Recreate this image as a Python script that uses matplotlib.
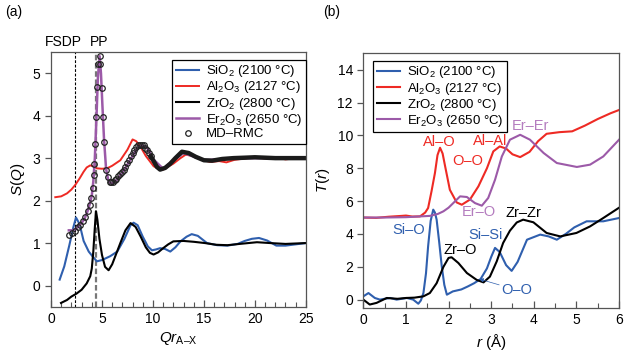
import numpy as np
import matplotlib
matplotlib.use("Agg")
import matplotlib.pyplot as plt
from matplotlib.ticker import MultipleLocator
import matplotlib.transforms as mtransforms

plt.rcParams["font.family"] = ["Liberation Sans", "DejaVu Sans"]
plt.rcParams["font.size"] = 10
plt.rcParams["mathtext.fontset"] = "custom"
plt.rcParams["mathtext.rm"] = "Liberation Sans"
plt.rcParams["mathtext.it"] = "Liberation Sans:italic"

BLUE = "#2f5fae"
RED = "#ee2a24"
PURPLE = "#9c5aa8"
PURPLE_TXT = "#b47cbf"
SPINE = "#555555"

LABELS = ["SiO$_2$ (2100 °C)", "Al$_2$O$_3$ (2127 °C)",
          "ZrO$_2$ (2800 °C)", "Er$_2$O$_3$ (2650 °C)"]

# ---- panel (a): S(Q) vs Q r_A-X ----
sio2_q = [0.85, 1.3, 1.8, 2.2, 2.45, 2.8, 3.2, 3.7, 4.1, 4.5, 5.0, 5.8, 6.5, 7.2, 7.8, 8.1, 8.5,
          9.0, 9.5, 9.9, 10.3, 10.7, 11.2, 11.7, 12.2, 12.7, 13.3, 13.8, 14.4, 15.3, 16.3, 17.3,
          18.3, 19.0, 19.7, 20.4, 21.2, 22.1, 23.0, 24.0, 25.0]
sio2_s = [0.14, 0.45, 0.95, 1.38, 1.6, 1.45, 1.05, 0.8, 0.68, 0.57, 0.6, 0.69, 0.8, 1.1, 1.42,
          1.48, 1.42, 1.15, 0.92, 0.83, 0.85, 0.88, 0.86, 0.8, 0.9, 1.04, 1.15, 1.21, 1.17, 1.0,
          0.95, 0.94, 0.98, 1.05, 1.1, 1.12, 1.06, 0.94, 0.94, 0.97, 1.0]

al2o3_q = [0.42, 1.0, 1.57, 2.0, 2.38, 2.8, 3.2, 3.5, 3.85, 4.2, 4.5, 5.0, 5.5, 6.0, 6.8, 7.5,
           8.0, 8.35, 8.75, 9.3, 10.06, 10.5, 11.0, 12.0, 12.7, 13.2, 14.0, 15.0, 15.6, 16.5,
           17.2, 18.0, 19.0, 19.9, 21.0, 22.0, 23.0, 24.0, 25.0]
al2o3_s = [2.08, 2.1, 2.17, 2.26, 2.37, 2.52, 2.68, 2.78, 2.83, 2.8, 2.76, 2.75, 2.76, 2.82,
           2.95, 3.2, 3.44, 3.4, 3.28, 3.05, 2.81, 2.75, 2.73, 2.87, 3.0, 3.08, 3.05, 2.95, 2.91,
           2.93, 2.9, 2.96, 2.99, 3.03, 2.99, 3.02, 2.97, 3.0, 3.0]

zro2_q = [0.98, 1.57, 2.0, 2.5, 3.0, 3.5, 3.85, 4.0, 4.15, 4.28, 4.41, 4.55, 4.75, 5.0, 5.3,
          5.65, 6.0, 6.4, 6.8, 7.3, 7.8, 8.3, 8.8, 9.3, 9.7, 10.06, 10.5, 11.0, 11.5, 12.0, 13.0,
          14.0, 15.1, 16.2, 17.3, 18.5, 20.2, 21.5, 23.0, 25.0]
zro2_s = [-0.41, -0.34, -0.26, -0.19, -0.1, 0.05, 0.22, 0.4, 0.8, 1.3, 1.75, 1.55, 1.1, 0.72,
          0.44, 0.36, 0.5, 0.75, 1.0, 1.3, 1.47, 1.38, 1.15, 0.9, 0.77, 0.73, 0.78, 0.88, 0.97,
          1.04, 1.05, 1.03, 1.0, 0.96, 0.95, 0.98, 1.02, 1.0, 0.98, 1.0]

er2o3_q = [1.75, 2.1, 2.4, 2.7, 3.0, 3.3, 3.6, 3.8, 4.0, 4.15, 4.3, 4.45, 4.6, 4.77, 4.9, 5.05,
           5.2, 5.4, 5.6, 5.8, 6.0, 6.5, 7.0, 7.5, 8.0, 8.5, 9.0, 9.5, 10.0, 11.0, 12.0, 13.0,
           15.0, 18.0, 25.0]
er2o3_s = [1.3, 1.3, 1.33, 1.4, 1.47, 1.58, 1.76, 1.92, 2.12, 2.45, 3.0, 3.9, 4.9, 5.4, 5.0,
           4.2, 3.45, 2.75, 2.5, 2.42, 2.4, 2.5, 2.66, 2.85, 3.05, 3.25, 3.3, 3.22, 2.98, 2.75,
           2.95, 3.12, 2.95, 3.0, 3.0]

md_q = [1.73, 2.06, 2.38, 2.61, 2.87, 3.13, 3.36, 3.59, 3.79, 3.95, 4.08, 4.18, 4.25, 4.34,
        4.41, 4.51, 4.6, 4.77, 4.83, 4.96, 5.09, 5.23, 5.39, 5.55, 5.75, 5.91, 6.08, 6.25,
        6.42, 6.6, 6.78, 6.95, 7.12, 7.3, 7.48, 7.65, 7.82, 8.0, 8.18, 8.36, 8.54, 8.72, 8.9,
        9.08, 9.26, 9.44, 9.62, 9.8]
md_s = [1.18, 1.23, 1.29, 1.37, 1.43, 1.52, 1.62, 1.76, 1.9, 2.05, 2.29, 2.6, 2.87, 3.34,
        3.97, 4.67, 5.21, 5.41, 5.21, 4.64, 3.97, 3.39, 2.72, 2.56, 2.44, 2.43, 2.44, 2.48,
        2.52, 2.57, 2.62, 2.67, 2.73, 2.8, 2.88, 2.96, 3.04, 3.12, 3.2, 3.26, 3.3, 3.31, 3.31,
        3.3, 3.25, 3.18, 3.11, 3.04]
# high-Q part where the MD-RMC circles merge into a thick band
md_tail_q = [9.8, 10.4, 10.7, 11.2, 11.7, 12.2, 12.84, 13.5, 14.2, 15.0, 15.8, 16.8, 17.9,
             19.0, 20.0, 21.0, 22.0, 23.0, 24.0, 25.0]
md_tail_s = [3.04, 2.79, 2.73, 2.77, 2.87, 3.0, 3.15, 3.12, 3.03, 2.95, 2.94, 2.98, 3.0,
             3.01, 3.02, 3.01, 3.0, 3.0, 3.0, 3.0]

fsdp_x = 2.38
pp_x = 4.41

# ---- panel (b): T(r) vs r ----
r_sio2 = [0, 0.12, 0.27, 0.39, 0.5, 0.63, 0.78, 0.9, 1.02, 1.17, 1.29, 1.35, 1.41, 1.47, 1.52,
          1.58, 1.64, 1.68, 1.72, 1.78, 1.84, 1.9, 1.96, 2.1, 2.3, 2.45, 2.6, 2.75, 2.9, 3.0,
          3.09, 3.2, 3.35, 3.48, 3.62, 3.84, 4.15, 4.35, 4.54, 4.75, 4.95, 5.24, 5.63, 6.0]
t_sio2 = [0.2, 0.4, 0.1, 0.0, 0.05, 0.1, 0.0, 0.05, 0.1, 0.0, -0.25, -0.05, 0.4, 1.6, 3.25, 4.8,
          5.48, 5.3, 4.87, 3.5, 2.03, 0.9, 0.3, 0.5, 0.62, 0.8, 1.0, 1.25, 1.9, 2.6, 3.15, 2.9,
          2.1, 1.75, 2.3, 3.65, 3.96, 3.85, 3.65, 4.0, 4.4, 4.77, 4.77, 4.97]

r_al2o3 = [0, 0.3, 0.6, 0.9, 1.0, 1.15, 1.33, 1.45, 1.52, 1.6, 1.68, 1.74, 1.8, 1.86, 1.92,
           2.03, 2.19, 2.31, 2.5, 2.7, 2.9, 3.05, 3.2, 3.35, 3.5, 3.68, 3.9, 4.1, 4.3, 4.6, 4.9,
           5.2, 5.5, 5.8, 6.0]
t_al2o3 = [5.0, 4.98, 5.05, 5.1, 5.12, 5.06, 5.07, 5.3, 5.58, 6.6, 7.71, 8.8, 9.25, 8.9, 8.11,
           6.69, 5.92, 5.78, 6.09, 6.9, 8.0, 9.03, 9.33, 9.2, 8.85, 8.68, 9.0, 9.65, 10.1, 10.2,
           10.25, 10.6, 11.0, 11.35, 11.55]

r_zro2 = [0, 0.15, 0.31, 0.55, 0.8, 1.0, 1.2, 1.41, 1.56, 1.72, 1.88, 2.0, 2.07, 2.23, 2.43,
          2.66, 2.82, 2.97, 3.13, 3.28, 3.44, 3.6, 3.75, 3.99, 4.3, 4.62, 5.0, 5.32, 5.63, 5.99]
t_zro2 = [0.0, -0.3, -0.2, 0.1, 0.05, 0.1, 0.12, 0.2, 0.4, 1.0, 2.0, 2.54, 2.58, 2.23, 1.62,
          1.2, 1.05, 1.4, 2.33, 3.45, 4.2, 4.7, 4.87, 4.71, 4.06, 3.85, 4.06, 4.46, 4.97, 5.58]

r_er2o3 = [0, 0.5, 1.0, 1.56, 1.75, 1.88, 2.0, 2.11, 2.27, 2.43, 2.62, 2.78, 2.93, 3.09, 3.25,
           3.44, 3.68, 3.91, 4.23, 4.54, 5.01, 5.32, 5.63, 6.0]
t_er2o3 = [5.0, 5.0, 5.02, 5.1, 5.22, 5.38, 5.6, 5.88, 6.29, 6.25, 5.88, 5.72, 6.19, 7.3, 8.72,
           9.74, 10.04, 9.74, 8.93, 8.32, 8.08, 8.22, 8.72, 9.74]

pair_names = ["Al–O", "O–O", "Al–Al", "Er–Er", "Er–O", "Zr–Zr", "Si–O", "Si–Si", "Zr–O", "O–O"]
pair_x = [1.78, 2.45, 2.97, 3.91, 2.72, 3.76, 1.06, 2.86, 2.27, 3.6]
pair_y = [9.6, 8.42, 9.65, 10.55, 5.31, 5.27, 4.26, 3.96, 3.04, 0.61]
pair_col = [RED, RED, RED, PURPLE_TXT, PURPLE_TXT, "black", BLUE, BLUE, "black", BLUE]


def style_axes(ax):
    for sp in ax.spines.values():
        sp.set_color(SPINE)
        sp.set_linewidth(0.9)
    ax.tick_params(axis="x", which="both", direction="in", color=SPINE, labelsize=10, pad=4)
    ax.tick_params(axis="x", which="major", length=5, width=0.9)
    ax.tick_params(axis="x", which="minor", length=3.5, width=0.8)
    ax.tick_params(axis="y", direction="out", length=4, width=0.9, color=SPINE, labelsize=10)


def make_legend(ax, handles, labels, loc, anchor):
    leg = ax.legend(handles, labels, loc=loc, bbox_to_anchor=anchor, borderaxespad=0,
                    fancybox=False, edgecolor="black", framealpha=1, fontsize=9.5,
                    handlelength=1.8, handletextpad=0.5, labelspacing=0.02, borderpad=0.25)
    leg.get_frame().set_linewidth(0.9)
    return leg


fig = plt.figure(figsize=(6.32, 3.51), dpi=100)
ax1 = fig.add_axes([0.0807, 0.126, 0.4033, 0.726])
ax2 = fig.add_axes([0.5749, 0.123, 0.4046, 0.725])

# panel (a)
ax1.axvline(fsdp_x, color="black", ls=(0, (2.5, 1.5)), lw=0.8, zorder=1)
ax1.axvline(pp_x, color="#777777", ls=(0, (2.5, 1.2)), lw=1.6, zorder=1)
ax1.plot(sio2_q, sio2_s, color=BLUE, lw=1.5, label=LABELS[0])
ax1.plot(al2o3_q, al2o3_s, color=RED, lw=1.4, label=LABELS[1])
ax1.plot(zro2_q, zro2_s, color="black", lw=1.5, label=LABELS[2])
ax1.plot(er2o3_q, er2o3_s, color=PURPLE, lw=1.8, label=LABELS[3])
ax1.plot(md_q, md_s, ls="none", marker="o", ms=4, mfc="none", mec="#222222", mew=0.9,
         label="MD–RMC")
ax1.plot(md_tail_q, md_tail_s, color="#1a1a1a", lw=3.2)
ax1.set_xlim(0, 25)
ax1.set_ylim(-0.5, 5.5)
ax1.xaxis.set_major_locator(MultipleLocator(5))
ax1.xaxis.set_minor_locator(MultipleLocator(1))
ax1.yaxis.set_major_locator(MultipleLocator(1))
style_axes(ax1)
ax1.set_xlabel(r"$\mathit{Qr}_{\mathrm{A–X}}$", fontsize=11, labelpad=3)
ax1.set_ylabel(r"$\mathit{S}$($\mathit{Q}$)", fontsize=11, labelpad=4)

h, l = ax1.get_legend_handles_labels()
make_legend(ax1, h, l, "upper right", (1.0, 0.969))

trans = mtransforms.blended_transform_factory(ax1.transData, ax1.transAxes)
ax1.text(1.2, 1.01, "FSDP", transform=trans, ha="center", va="bottom", fontsize=10)
ax1.text(4.74, 1.01, "PP", transform=trans, ha="center", va="bottom", fontsize=10)

# panel (b)
ax2.plot(r_sio2, t_sio2, color=BLUE, lw=1.5, label=LABELS[0])
ax2.plot(r_al2o3, t_al2o3, color=RED, lw=1.5, label=LABELS[1])
ax2.plot(r_zro2, t_zro2, color="black", lw=1.5, label=LABELS[2])
ax2.plot(r_er2o3, t_er2o3, color=PURPLE, lw=1.5, label=LABELS[3])
ax2.set_xlim(0, 6)
ax2.set_ylim(-0.5, 15)
ax2.xaxis.set_major_locator(MultipleLocator(1))
ax2.xaxis.set_minor_locator(MultipleLocator(0.5))
ax2.yaxis.set_major_locator(MultipleLocator(2))
style_axes(ax2)
ax2.set_xlabel(r"$\mathit{r}$ (Å)", fontsize=11, labelpad=3)
ax2.set_ylabel(r"$\mathit{T}$($\mathit{r}$)", fontsize=11, labelpad=4)

h2, l2 = ax2.get_legend_handles_labels()
make_legend(ax2, h2, l2, "upper left", (0.039, 0.97))

for name, x, y, c in zip(pair_names, pair_x, pair_y, pair_col):
    ax2.text(x, y, name, color=c, ha="center", va="center", fontsize=10.5)
ax2.annotate("", xy=(2.66, 1.3), xytext=(3.25, 0.85),
             arrowprops=dict(arrowstyle="-|>", color=BLUE, lw=0.5, mutation_scale=6))

fig.text(0.008, 0.965, "(a)", fontsize=10, va="center", ha="left")
fig.text(0.511, 0.965, "(b)", fontsize=10, va="center", ha="left")

fig.savefig("out.png", dpi=100)
